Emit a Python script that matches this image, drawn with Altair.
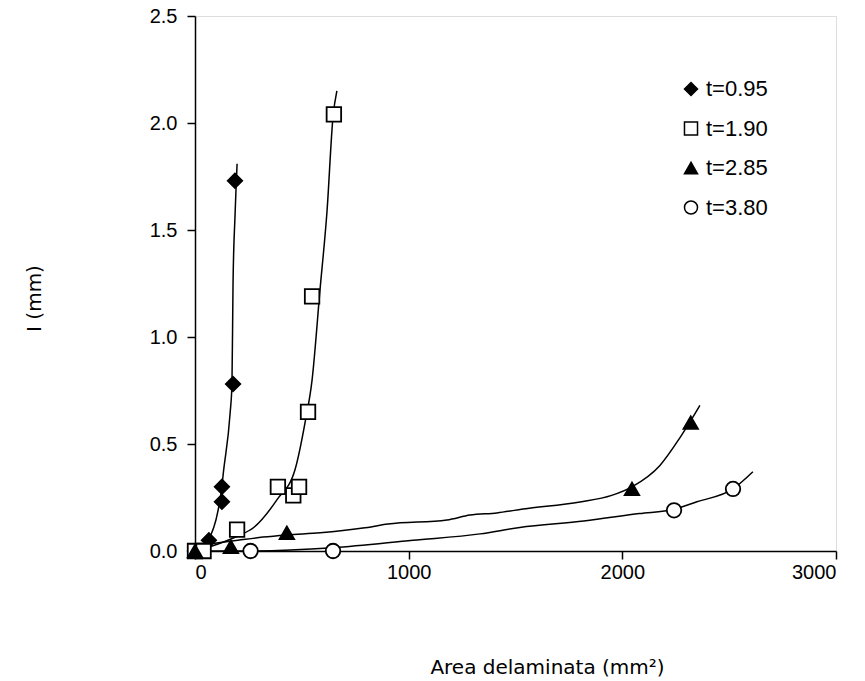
import altair as alt
import pandas as pd

series_names = ["t=0.95", "t=1.90", "t=2.85", "t=3.80"]

# measured points
pts_095_x = [0, 65, 126, 126, 178, 187]
pts_095_y = [0.0, 0.05, 0.23, 0.30, 0.78, 1.73]
pts_190_x = [0, 40, 197, 388, 460, 487, 529, 548, 650]
pts_190_y = [0.0, 0.0, 0.10, 0.30, 0.26, 0.30, 0.65, 1.19, 2.04]
pts_285_x = [0, 168, 430, 2045, 2320]
pts_285_y = [0.0, 0.02, 0.085, 0.29, 0.60]
pts_380_x = [260, 646, 2242, 2518]
pts_380_y = [0.0, 0.0, 0.19, 0.29]

# fitted curves
crv_095_x = [0, 61, 108, 126, 131, 164, 173, 178, 187, 192, 197]
crv_095_y = [0.0, 0.05, 0.19, 0.30, 0.35, 0.64, 0.78, 1.25, 1.56, 1.69, 1.81]
crv_190_x = [0, 70, 200, 275, 384, 468, 515, 548, 585, 618, 646, 664]
crv_190_y = [0.0, 0.02, 0.07, 0.11, 0.24, 0.38, 0.60, 0.80, 1.22, 1.59, 2.03, 2.15]
crv_285_x = [47, 200, 318, 430, 586, 786, 903, 1179, 1287, 1413, 1535, 1802, 1950, 2045, 2176, 2270, 2321, 2363]
crv_285_y = [0.03, 0.05, 0.065, 0.075, 0.085, 0.107, 0.126, 0.145, 0.168, 0.178, 0.196, 0.229, 0.26, 0.30, 0.40, 0.53, 0.61, 0.68]
crv_380_x = [0, 257, 646, 1020, 1334, 1520, 1820, 2080, 2242, 2349, 2518, 2611]
crv_380_y = [0.0, 0.0, 0.015, 0.05, 0.08, 0.11, 0.14, 0.175, 0.195, 0.23, 0.29, 0.37]

pts = []
for name, xs, ys in zip(series_names,
                        [pts_095_x, pts_190_x, pts_285_x, pts_380_x],
                        [pts_095_y, pts_190_y, pts_285_y, pts_380_y]):
    for x, y in zip(xs, ys):
        pts.append({"series": name, "x": x, "y": y})
pts_df = pd.DataFrame(pts)

crv = []
for name, xs, ys in zip(series_names,
                        [crv_095_x, crv_190_x, crv_285_x, crv_380_x],
                        [crv_095_y, crv_190_y, crv_285_y, crv_380_y]):
    for i, (x, y) in enumerate(zip(xs, ys)):
        crv.append({"series": name, "x": x, "y": y, "i": i})
crv_df = pd.DataFrame(crv)

xscale = alt.Scale(domain=[0, 3000], nice=False, zero=False)
yscale = alt.Scale(domain=[0, 2.5], nice=False, zero=False)

xaxis = alt.Axis(values=[0, 1000, 2000, 3000], format="d", grid=False, title="Area delaminata (mm²)",
                 labelFont="Liberation Sans", labelFontSize=20, labelColor="black",
                 tickColor="black", tickSize=8, tickWidth=1.5, domainColor="black", domainWidth=1.5,
                 labelPadding=3, titleFont="DejaVu Sans", titleFontSize=20, titleFontWeight="normal",
                 titleColor="black", titleX=352, titleY=122, titleBaseline="alphabetic", titleAlign="center")
yaxis = alt.Axis(values=[0, 0.5, 1.0, 1.5, 2.0, 2.5], format=".1f", grid=False, title="I (mm)",
                 labelFont="Liberation Sans", labelFontSize=20, labelColor="black",
                 tickColor="black", tickSize=8, tickWidth=1.5, domainColor="black", domainWidth=1.5,
                 labelPadding=10, titleFont="DejaVu Sans", titleFontSize=20, titleFontWeight="normal",
                 titleColor="black", titleX=-155, titleY=282, titleAngle=-90,
                 titleBaseline="alphabetic", titleAlign="center")

legend_cfg = dict(title=None, orient="none", legendX=485, legendY=62,
                  labelFont="Liberation Sans", labelFontSize=22, labelColor="black",
                  symbolSize=170, symbolStrokeWidth=1.5,
                  rowPadding=17.5, labelOffset=4, padding=0)

lines = alt.Chart(crv_df).mark_line(color="black", strokeWidth=1.5, interpolate="monotone").encode(
    x=alt.X("x:Q", scale=xscale, axis=xaxis),
    y=alt.Y("y:Q", scale=yscale, axis=yaxis),
    detail="series:N",
    order="i:Q",
)

points = alt.Chart(pts_df).mark_point(filled=True, strokeWidth=1.8, size=210, opacity=1).encode(
    x=alt.X("x:Q", scale=xscale),
    y=alt.Y("y:Q", scale=yscale),
    stroke=alt.Stroke("series:N", scale=alt.Scale(domain=series_names,
                      range=["black", "black", "black", "black"]),
                      legend=alt.Legend(**legend_cfg)),
    shape=alt.Shape("series:N", scale=alt.Scale(domain=series_names,
                    range=["diamond", "square", "triangle-up", "circle"]),
                    legend=alt.Legend(**legend_cfg)),
    fill=alt.Fill("series:N", scale=alt.Scale(domain=series_names,
                  range=["black", "white", "black", "white"]),
                  legend=alt.Legend(**legend_cfg)),
)

chart = alt.layer(lines, points).properties(
    width=641, height=535,
    padding={"left": 195, "top": 16, "right": 29, "bottom": 130},
    autosize=alt.AutoSizeParams(type="none"),
).configure_view(stroke="#808080", strokeWidth=1.5).configure(background="white")

chart.save("out.html", embed_options={"renderer": "svg", "actions": False})
